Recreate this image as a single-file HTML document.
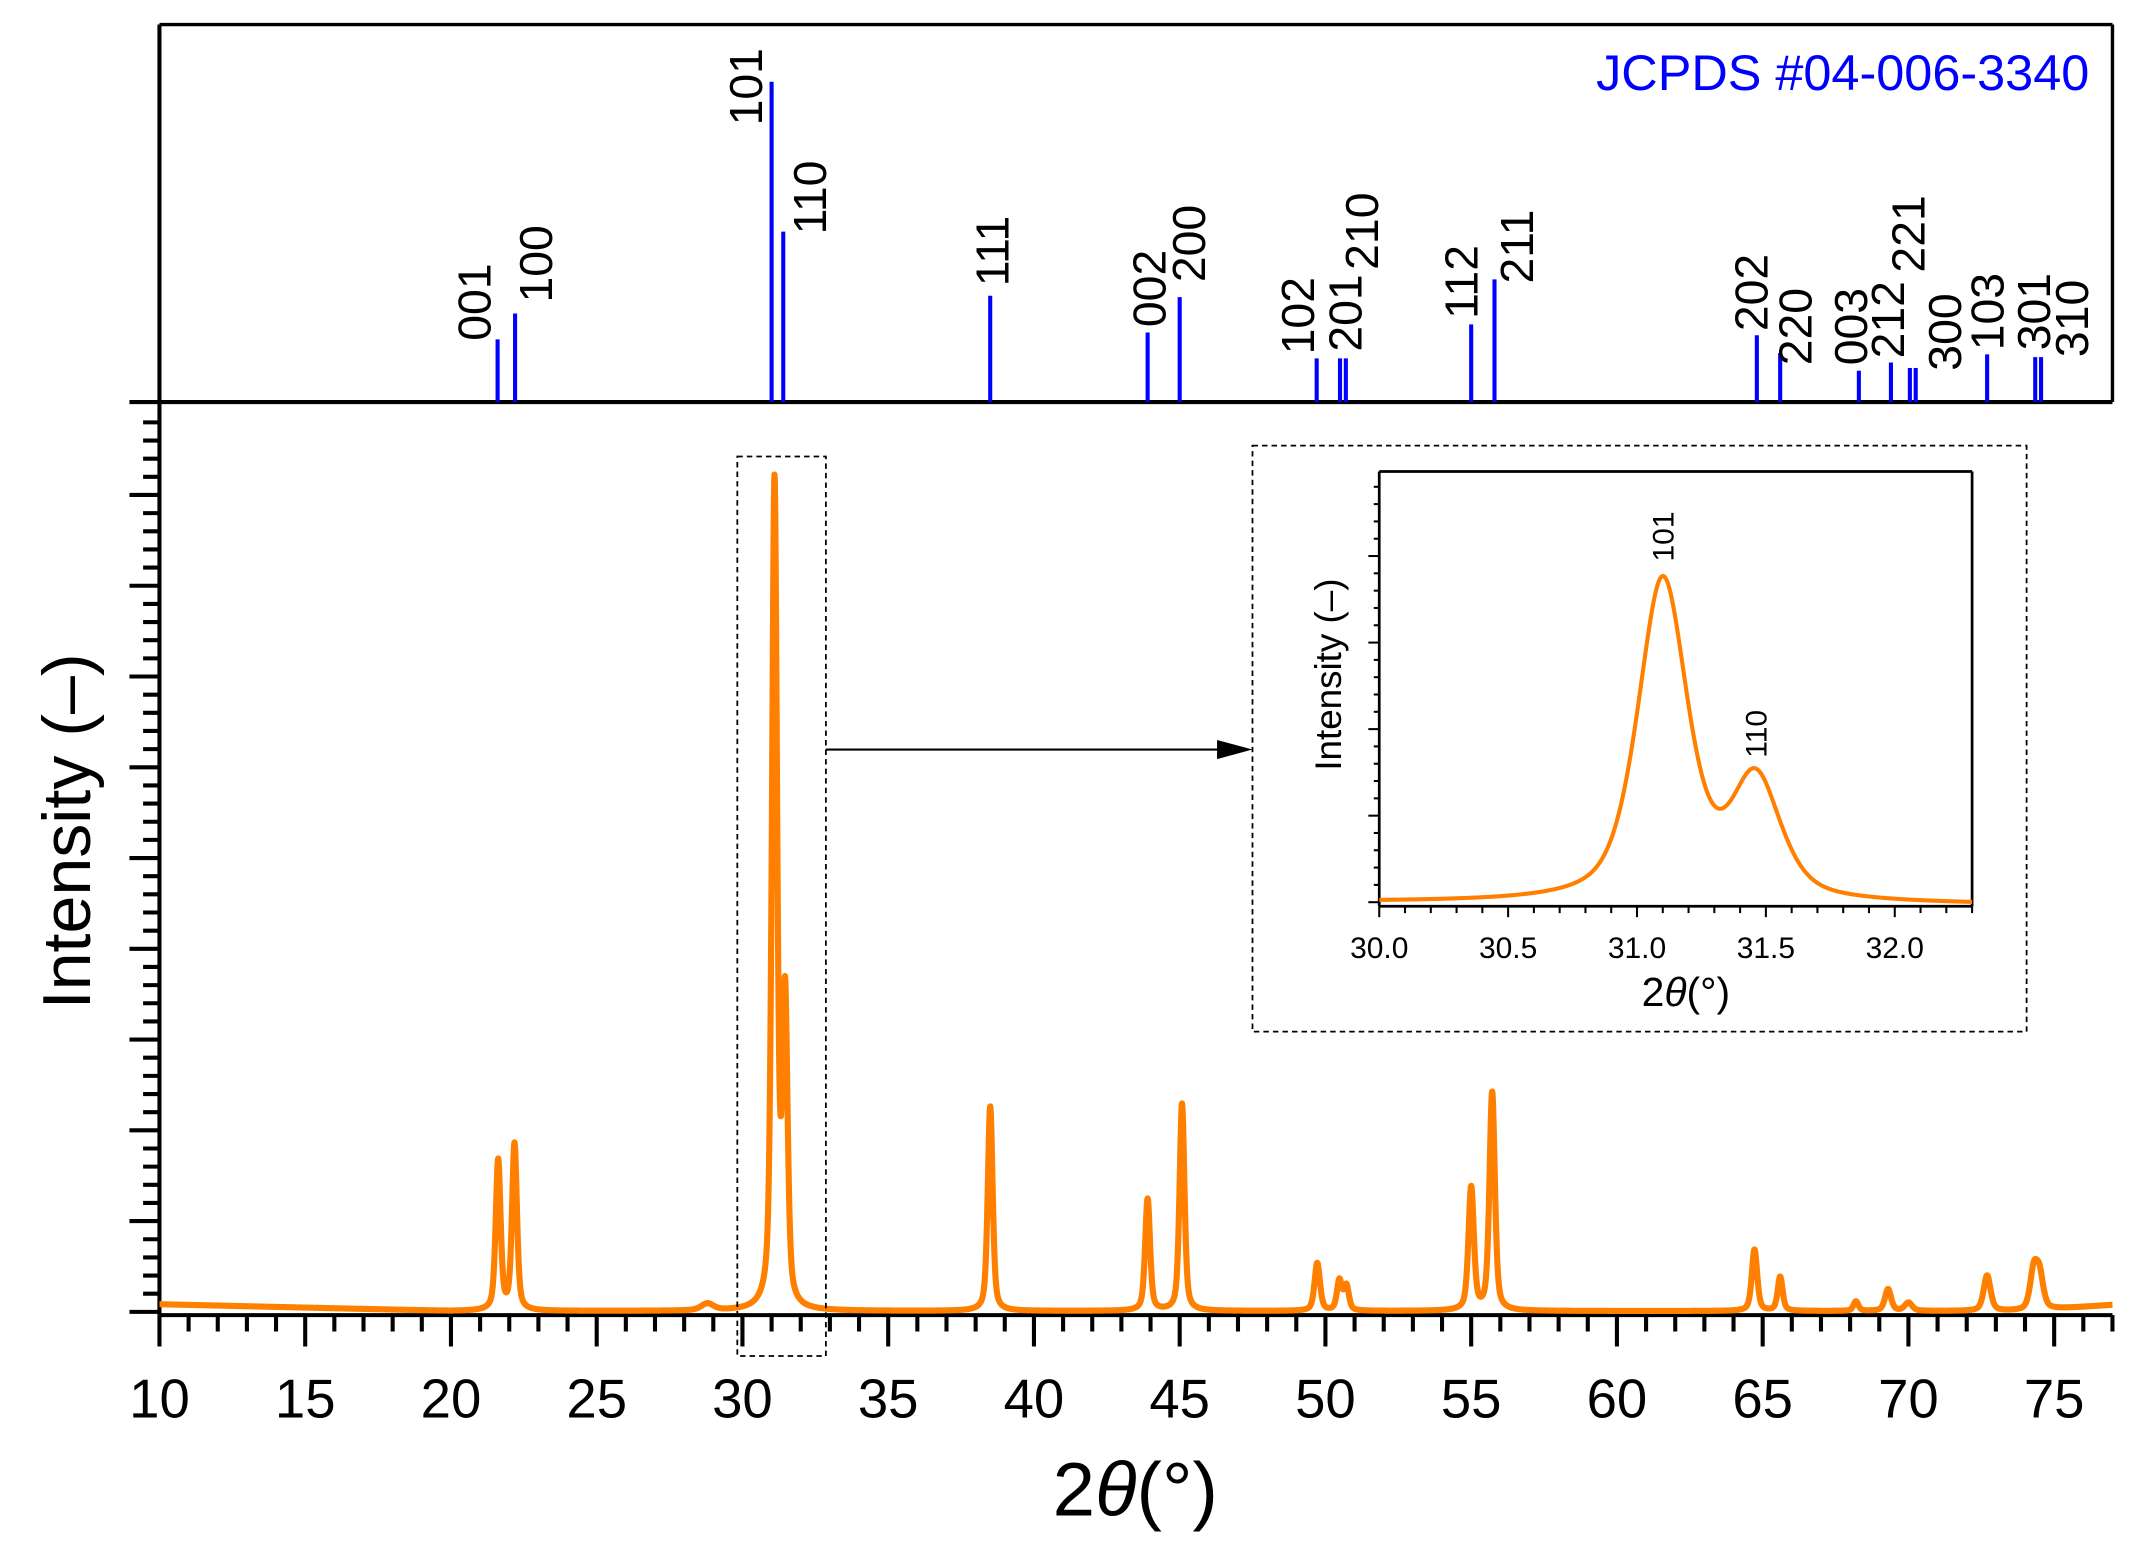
<!DOCTYPE html>
<html><head><meta charset="utf-8"><style>
html,body{margin:0;padding:0;background:#fff;}
svg{display:block;}
text{font-family:"Liberation Sans",Arial,sans-serif;}
</style></head><body>
<svg id="s" width="2137" height="1546" viewBox="0 0 1568 1134.4" preserveAspectRatio="none" xmlns="http://www.w3.org/2000/svg">
<rect width="1568" height="1134.4" fill="#fff"/>
<g id="g"></g>
</svg>
<script>
var NS="http://www.w3.org/2000/svg",G=document.getElementById("g");
function el(t,a,txt){var e=document.createElementNS(NS,t);for(var k in a)e.setAttribute(k,a[k]);if(txt!==undefined)e.textContent=txt;G.appendChild(e);return e;}
function line(x1,y1,x2,y2,w,c,extra){var a={x1:x1,y1:y1,x2:x2,y2:y2,stroke:c||"#000","stroke-width":w};if(extra)for(var k in extra)a[k]=extra[k];return el("line",a);}
var X0=117,X1=1550,xs=function(v){return X0+(v-10)*(X1-X0)/67;};
line(117,18,1550,18,2.5);line(1550,18,1550,295,2.5);line(117,18,117,965,3);
line(95,295,1550,295,3);line(117,965,1550,965,3);
for(var k=-4;k<=45;k++){var y=363.2+k*13.32;if(y<300||y>966)continue;var maj=(k%5===0);line(maj?95:105,y,117,y,3);}
for(var v=10;v<=77;v++){var maj=(v%5===0);line(xs(v),965,xs(v),maj?988:977,3);if(maj)el("text",{x:xs(v),y:1040,"font-size":40,"text-anchor":"middle"},""+v);}
el("text",{x:833,y:1112,"font-size":56,"text-anchor":"middle"}).innerHTML='2<tspan font-style="italic">θ</tspan>(°)';
el("text",{x:0,y:0,"font-size":50,"text-anchor":"middle",transform:"translate(66,610) rotate(-90)"},"Intensity (–)");
el("text",{x:1533,y:66,"font-size":37,"text-anchor":"end",fill:"#0000ff"},"JCPDS #04-006-3340");
var st=[[21.6,249],[22.2,230],[31.0,60],[31.4,170],[38.5,217],[43.9,244],[45.0,218],[49.7,263],[50.5,263],[50.7,263],[55.0,238],[55.8,205],[64.8,246],[65.6,259],[68.3,272],[69.4,266],[70.05,270],[70.25,270],[72.7,260],[74.35,262],[74.55,262]];
st.forEach(function(s){line(xs(s[0]),s[1],xs(s[0]),295,3,"#0000ff");});
var lb=[["001",348,250],["100",393,222],["101",547,92],["110",594,172],["111",728,210],["002",843,240],["200",872,207],["102",952,260],["201",987,258],["210",999,198],["112",1072,234],["211",1113,208],["202",1285,243],["220",1317,268],["003",1358,268],["212",1385,263],["221",1400,200],["300",1427,272],["103",1458,257],["301",1492,257],["310",1520,262]];
lb.forEach(function(l){el("text",{x:0,y:0,"font-size":34,transform:"translate("+(l[1]+12)+","+l[2]+") rotate(-90)"},l[0]);});
var P=[[21.62,110,.2],[22.18,122,.2],[28.8,5,.5],[31.1,605,.21],[31.46,222,.21],[38.5,150,.2],[43.9,82,.2],[45.08,152,.2],[49.72,35,.22],[50.48,22,.2],[50.72,18,.2],[55.0,90,.22],[55.72,160,.22],[64.72,45,.22],[65.6,25,.2],[68.2,7,.2],[69.3,16,.25],[70.0,6,.3],[72.7,26,.28],[74.3,28,.3],[74.5,24,.3]];
function I(x){var s=0;P.forEach(function(p){var d=(x-p[0])/(p[2]/2);s+=p[1]*(0.5/(1+d*d)+0.5*Math.exp(-0.693*d*d));});return s;}
function base(x){return x<20?957+(x-10)*0.5:(x>74?962-(x-74)*1.5:962);}
var d="";for(var x=10;x<=77.0001;x+=0.01){d+=(d?"L":"M")+xs(x).toFixed(2)+","+(base(x)-I(x)).toFixed(2);}
el("path",{d:d,fill:"none",stroke:"#ff7f00","stroke-width":4.5,"stroke-linejoin":"round"});
el("rect",{x:541,y:335,width:65,height:660,fill:"none",stroke:"#000","stroke-width":1.3,"stroke-dasharray":"4,3"});
line(606,550,895,550,1.5);el("polygon",{points:"919,550 893,543 893,557",fill:"#000"});
el("rect",{x:919,y:327,width:568,height:430,fill:"#fff",stroke:"#000","stroke-width":1.3,"stroke-dasharray":"4,3"});
var IX0=1012,IX1=1447,ixs=function(v){return IX0+(v-30)*(IX1-IX0)/2.3;};
line(1012,346,1447,346,2);line(1447,346,1447,665,2);line(1012,346,1012,665,2);line(1012,665,1447,665,2);
for(var k=0;k<=23;k++){var v=30+k*0.1,maj=(k%5===0);line(ixs(v),665,ixs(v),maj?673:670,1.5);if(maj)el("text",{x:ixs(v),y:703,"font-size":22,"text-anchor":"middle"},v.toFixed(1));}
for(var k=0;k<=25;k++){var y=662-k*12.7;if(y<348)break;line(k%5===0?1004:1008,y,1012,y,1.5);}
var P2=[[31.1,600,.23],[31.46,222,.23]];
function I2(x){var s=0;P2.forEach(function(p){var d=(x-p[0])/(p[2]/2);s+=p[1]*(0.55/(1+d*d)+0.45*Math.exp(-0.693*d*d));});return s;}
var di="";for(var x=30;x<=32.3001;x+=0.005){var y=662-0.393*I2(x)+(x-30)*0.8;di+=(di?"L":"M")+ixs(x).toFixed(2)+","+y.toFixed(2);}
el("path",{d:di,fill:"none",stroke:"#ff7f00","stroke-width":3,"stroke-linejoin":"round"});
el("text",{x:0,y:0,"font-size":22,transform:"translate(1228,412) rotate(-90)"},"101");
el("text",{x:0,y:0,"font-size":22,transform:"translate(1296,556) rotate(-90)"},"110");
el("text",{x:0,y:0,"font-size":27,"text-anchor":"middle",transform:"translate(984,495) rotate(-90)"},"Intensity (–)");
el("text",{x:1237,y:738,"font-size":30,"text-anchor":"middle"}).innerHTML='2<tspan font-style="italic">θ</tspan>(°)';
</script>
</body></html>
